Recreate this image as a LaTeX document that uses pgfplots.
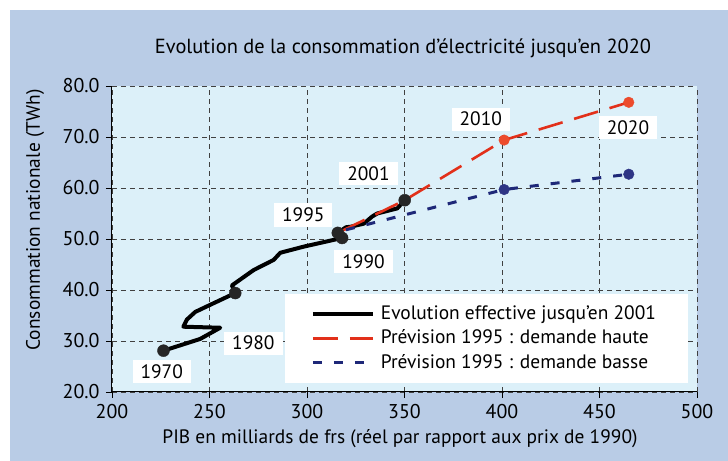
\documentclass[border=0pt]{standalone}
\usepackage{fontspec}
\setmainfont{PT Sans}
\usepackage{pgfplots}
\pgfplotsset{compat=1.18}
\definecolor{bgblue}{HTML}{B9CCE6}
\definecolor{plotbg}{HTML}{DCF0F9}
\definecolor{myred}{HTML}{E2301A}
\definecolor{myblue}{HTML}{1E2878}
\definecolor{dotred}{HTML}{EC4B2C}
\definecolor{dotblue}{HTML}{2E3585}
\definecolor{gridc}{HTML}{404040}
\begin{document}
\fontsize{19}{22}\selectfont
\begin{tikzpicture}[x=1bp,y=1bp]
\path[use as bounding box] (-112,-69) rectangle (616,392);
\fill[white] (-112,-69) rectangle (616,392);
\fill[bgblue] (-102,-69) rectangle (616,382);
\begin{axis}[
  at={(0,0)}, anchor=south west,
  scale only axis, width=585bp, height=306bp,
  xmin=200, xmax=500, ymin=20, ymax=80,
  xtick={200,250,...,500}, ytick={20,30,...,80},
  axis x line*=bottom, axis y line*=left,
  axis line style={black, line width=1bp},
  tick align=outside, major tick length=6bp,
  tick style={black, line width=0.8bp},
  grid=major,
  major grid style={gridc, line width=0.8bp, dash pattern=on 5bp off 4bp},
  axis background/.style={fill=plotbg},
  /pgf/number format/assume math mode=true,
  tick label style={font=\fontsize{20}{23}\selectfont},
  yticklabel style={/pgf/number format/.cd, fixed, fixed zerofill, precision=1},
  xticklabel style={/pgf/number format/.cd, fixed, precision=0},
  clip=false,
  legend image code/.code={\draw[#1] (0bp,0bp) -- (60bp,0bp);},
  legend style={at={(0.985,0.32)}, anchor=north east, draw=none, fill=white,
    inner xsep=26bp, inner ysep=9bp, row sep=2.5bp,
    font=\fontsize{19.5}{22}\selectfont,
    nodes={inner xsep=6bp, inner ysep=2.5bp, anchor=west}},
  legend cell align=left,
]
\addplot[black, line width=4bp, line join=round] coordinates {
(226.4,28.1) (245.2,30.4) (255.5,32.6) (236.6,32.8) (238.4,34.2) (242.7,35.7)
(250.4,37.1) (263.2,39.4) (261.5,40.9) (272.6,43.9) (282.9,45.9) (286.3,47.3)
(298.3,48.5) (318.0,50.2) (315.8,51.2) (320.0,52.3) (322.3,52.4) (329.1,53.0)
(333.4,54.4) (336.0,55.0) (346.3,56.0) (350.1,57.6)};
\addlegendentry{Evolution effective jusqu’en 2001}
\addplot[myred, line width=2.6bp, dash pattern=on 25bp off 12bp] coordinates {
(318.0,51.6) (350.1,57.6) (401.1,69.4) (465.0,76.8)};
\addlegendentry{Prévision 1995 : demande haute}
\addplot[myblue, line width=3bp, dash pattern=on 9bp off 12bp] coordinates {
(320.0,51.8) (401.1,59.7) (465.0,62.7)};
\addlegendentry{Prévision 1995 : demande basse}
\addplot[only marks, mark=*, mark size=6bp, mark options={fill=black!85, draw=black!85}, forget plot] coordinates {
(226.4,28.1) (263.2,39.4) (315.8,51.2) (318.0,50.2) (350.1,57.6)};
\addplot[only marks, mark=*, mark size=5.3bp, mark options={fill=dotred, draw=dotred}, forget plot] coordinates {
(401.1,69.4) (465.0,76.8)};
\addplot[only marks, mark=*, mark size=5.3bp, mark options={fill=dotblue, draw=dotblue}, forget plot] coordinates {
(401.1,59.7) (465.0,62.7)};
\tikzset{yl/.style={fill=white, inner xsep=8bp, inner ysep=4.5bp, font=\fontsize{19.5}{22}\selectfont}}
\node[yl] at (axis cs:225.5,24.0) {1970};
\node[yl] at (axis cs:272.5,29.6) {1980};
\node[yl] at (axis cs:298.1,54.7) {1995};
\node[yl] at (axis cs:329.0,45.5) {1990};
\node[yl] at (axis cs:331.5,62.9) {2001};
\node[yl] at (axis cs:389.1,73.5) {2010};
\node[yl] at (axis cs:464.6,71.8) {2020};
\end{axis}
\node[font=\fontsize{20.5}{24}\selectfont] at (291,344) {Evolution de la consommation d'électricité jusqu'en 2020};
\node[rotate=90, font=\fontsize{19.5}{22}\selectfont] at (-77,172) {Consommation nationale (TWh)};
\node[font=\fontsize{19.5}{22}\selectfont] at (288,-47) {PIB en milliards de frs (réel par rapport aux prix de 1990)};
\end{tikzpicture}
\end{document}
